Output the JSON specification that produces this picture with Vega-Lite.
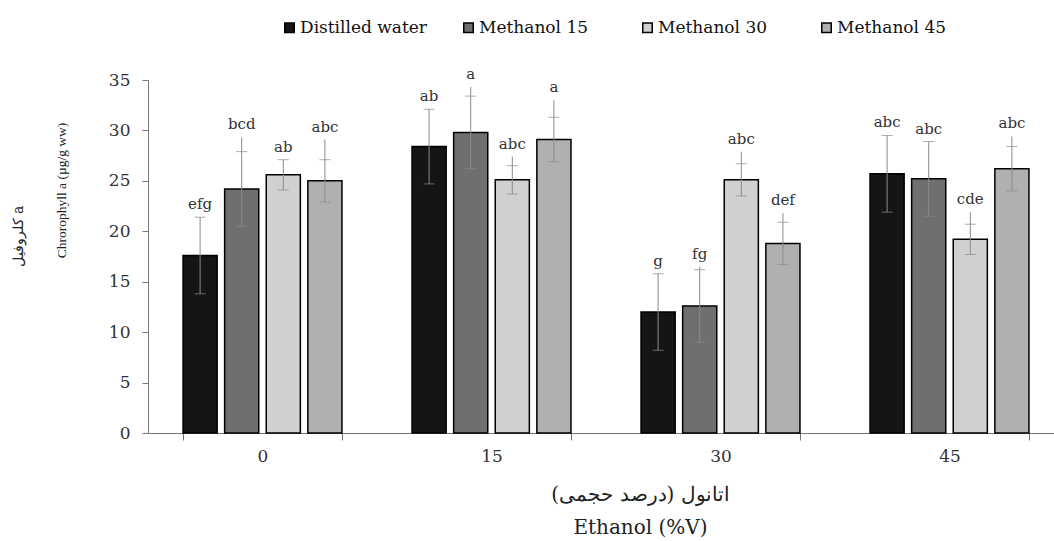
{
  "$schema": "https://vega.github.io/schema/vega-lite/v6.json",
  "width": 916,
  "height": 353,
  "autosize": "none",
  "padding": {"left": 148, "top": 80, "right": 0, "bottom": 108},
  "background": "white",
  "config": {
    "view": {"stroke": null},
    "font": "DejaVu Serif",
    "axis": {"grid": false, "labelFont": "DejaVu Serif", "titleFont": "DejaVu Serif", "labelColor": "#333", "titleColor": "#222", "domainColor": "#777", "tickColor": "#777", "titleFontWeight": "normal"}
  },
  "data": {
    "values": [
      {"eth": "0", "treat": "Distilled water", "mean": 17.6, "cap": 21.4, "top": 21.4, "lo": 13.8, "label": "efg"},
      {"eth": "0", "treat": "Methanol 15", "mean": 24.2, "cap": 27.9, "top": 29.3, "lo": 20.5, "label": "bcd"},
      {"eth": "0", "treat": "Methanol 30", "mean": 25.6, "cap": 27.1, "top": 27.1, "lo": 24.1, "label": "ab"},
      {"eth": "0", "treat": "Methanol 45", "mean": 25.0, "cap": 27.1, "top": 29.1, "lo": 22.9, "label": "abc"},
      {"eth": "15", "treat": "Distilled water", "mean": 28.4, "cap": 32.1, "top": 32.1, "lo": 24.7, "label": "ab"},
      {"eth": "15", "treat": "Methanol 15", "mean": 29.8, "cap": 33.4, "top": 34.3, "lo": 26.2, "label": "a"},
      {"eth": "15", "treat": "Methanol 30", "mean": 25.1, "cap": 26.5, "top": 27.4, "lo": 23.7, "label": "abc"},
      {"eth": "15", "treat": "Methanol 45", "mean": 29.1, "cap": 31.3, "top": 33.0, "lo": 26.9, "label": "a"},
      {"eth": "30", "treat": "Distilled water", "mean": 12.0, "cap": 15.8, "top": 15.8, "lo": 8.2, "label": "g"},
      {"eth": "30", "treat": "Methanol 15", "mean": 12.6, "cap": 16.2, "top": 16.5, "lo": 9.0, "label": "fg"},
      {"eth": "30", "treat": "Methanol 30", "mean": 25.1, "cap": 26.7, "top": 27.9, "lo": 23.5, "label": "abc"},
      {"eth": "30", "treat": "Methanol 45", "mean": 18.8, "cap": 20.9, "top": 21.8, "lo": 16.7, "label": "def"},
      {"eth": "45", "treat": "Distilled water", "mean": 25.7, "cap": 29.5, "top": 29.5, "lo": 21.9, "label": "abc"},
      {"eth": "45", "treat": "Methanol 15", "mean": 25.2, "cap": 28.9, "top": 28.9, "lo": 21.5, "label": "abc"},
      {"eth": "45", "treat": "Methanol 30", "mean": 19.2, "cap": 20.7, "top": 21.9, "lo": 17.7, "label": "cde"},
      {"eth": "45", "treat": "Methanol 45", "mean": 26.2, "cap": 28.4, "top": 29.4, "lo": 24.0, "label": "abc"}
    ]
  },
  "resolve": {"axis": {"y": "independent"}},
  "layer": [
    {
      "mark": {"type": "bar", "stroke": "black", "strokeWidth": 1.5},
      "encoding": {
        "x": {
          "field": "eth", "type": "nominal", "sort": ["0", "15", "30", "45"],
          "scale": {"paddingInner": 0.306, "paddingOuter": 0.153},
          "axis": {
            "title": ["اتانول (درصد حجمی)", "Ethanol (%V)"],
            "titleFontSize": 20, "titleLineHeight": 33, "titleX": 492, "titleY": 61, "titleBaseline": "middle", "titleAnchor": "middle",
            "labelAngle": 0, "labelFontSize": 17, "labelPadding": 8, "tickBand": "extent", "tickSize": 7
          }
        },
        "xOffset": {"field": "treat", "type": "nominal", "scale": {"paddingInner": 0.18, "paddingOuter": 0}},
        "y": {
          "field": "mean", "type": "quantitative",
          "scale": {"domain": [0, 35], "nice": false},
          "axis": {
            "orient": "left", "values": [0, 5, 10, 15, 20, 25, 30, 35], "labelFontSize": 17, "labelPadding": 12, "tickSize": 6,
            "title": "Chrorophyll a (µg/g ww)", "titleFont": "Liberation Serif", "titleFontSize": 13.5, "titleX": -87, "titleY": 110, "titleBaseline": "middle", "titleAngle": -90
          }
        },
        "color": {
          "field": "treat", "type": "nominal",
          "scale": {"domain": ["Distilled water", "Methanol 15", "Methanol 30", "Methanol 45"], "range": ["#151515", "#6f6f6f", "#d0d0d0", "#b0b0b0"]},
          "legend": {
            "title": null, "orient": "none", "direction": "horizontal", "legendX": 133, "legendY": -61,
            "columns": 4, "columnPadding": 33, "gridAlign": "all", "symbolType": "square", "symbolSize": 90, "symbolStrokeColor": "black", "symbolStrokeWidth": 1.5,
            "labelFont": "DejaVu Serif", "labelFontSize": 17, "labelColor": "#111", "labelOffset": 2, "labelLimit": 300
          }
        }
      }
    },
    {
      "mark": {"type": "rule", "color": "#8a8a8a", "strokeWidth": 1},
      "encoding": {
        "x": {"field": "eth", "type": "nominal", "sort": ["0", "15", "30", "45"]},
        "xOffset": {"field": "treat", "type": "nominal"},
        "y": {"field": "lo", "type": "quantitative", "axis": null},
        "y2": {"field": "top"}
      }
    },
    {
      "mark": {"type": "tick", "color": "#8a8a8a", "size": 11, "thickness": 1, "orient": "horizontal"},
      "encoding": {
        "x": {"field": "eth", "type": "nominal", "sort": ["0", "15", "30", "45"]},
        "xOffset": {"field": "treat", "type": "nominal"},
        "y": {"field": "cap", "type": "quantitative", "axis": null}
      }
    },
    {
      "mark": {"type": "tick", "color": "#8a8a8a", "size": 11, "thickness": 1, "orient": "horizontal"},
      "encoding": {
        "x": {"field": "eth", "type": "nominal", "sort": ["0", "15", "30", "45"]},
        "xOffset": {"field": "treat", "type": "nominal"},
        "y": {"field": "lo", "type": "quantitative", "axis": null}
      }
    },
    {
      "mark": {"type": "text", "font": "DejaVu Serif", "fontSize": 15, "color": "#333", "baseline": "alphabetic", "dy": -8},
      "encoding": {
        "x": {"field": "eth", "type": "nominal", "sort": ["0", "15", "30", "45"]},
        "xOffset": {"field": "treat", "type": "nominal"},
        "y": {
          "field": "top", "type": "quantitative",
          "axis": {"orient": "left", "labels": false, "ticks": false, "domain": false, "title": "کلروفیل a", "titleFontSize": 14, "titleX": -130, "titleY": 156, "titleBaseline": "middle", "titleAngle": -90}
        },
        "text": {"field": "label"}
      }
    }
  ]
}
